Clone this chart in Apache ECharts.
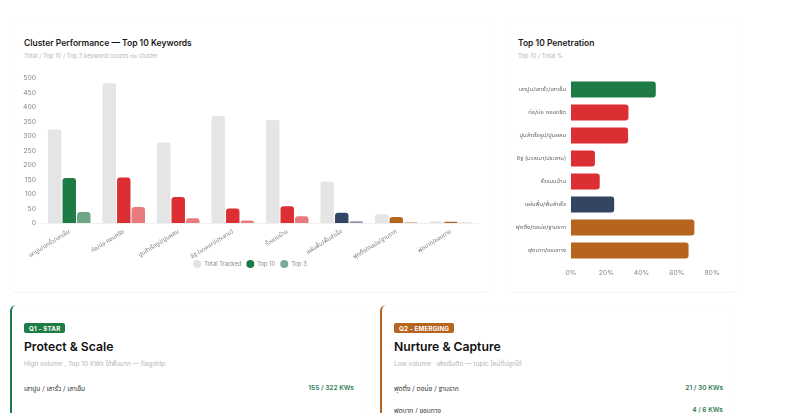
<!DOCTYPE html>
<html>
<head>
<meta charset="utf-8">
<script src="https://cdn.jsdelivr.net/npm/echarts@6/dist/echarts.min.js"></script>
<style>
  html, body { margin:0; padding:0; background:#fff; width:800px; height:413px; overflow:hidden;
    font-family: Inter, "Noto Sans", "Noto Sans Thai", "DejaVu Sans", sans-serif; }
  .card { position:absolute; background:#fff; border-radius:6px;
    box-shadow: 0 0 0 1px rgba(0,0,0,0.012), 0 1px 1px rgba(0,0,0,0.03); }
  .title { position:absolute; font-size:8.5px; font-weight:600; color:#1a1a1a; }
  .sub { position:absolute; font-size:5.9px; color:#b5b5b5; }
  .chart { position:absolute; }
  .qcard { position:absolute; background:#fff; border-radius:6px; overflow:hidden;
    box-shadow: 0 0 0 1px rgba(0,0,0,0.012), 0 1px 1px rgba(0,0,0,0.03); }
  .tag { position:absolute; left:12px; top:18px; font-size:6.2px; font-weight:700; color:#fff;
    padding:1.5px 5px; border-radius:2px; letter-spacing:0.2px; }
  .qtitle { position:absolute; left:12px; top:34px; font-size:12.2px; font-weight:600; color:#111; }
  .qsub { position:absolute; left:12px; top:54px; font-size:6.5px; color:#b5b5b5; }
  .row { position:absolute; left:12px; right:10px; font-size:6.6px; color:#333; }
  .row span { position:absolute; right:0; top:0; color:#2f7d57; font-weight:600; }
</style>
</head>
<body>
<div class="card" style="left:10px;top:22px;width:480px;height:270px;"></div>
<div class="card" style="left:506px;top:22px;width:232px;height:270px;"></div>
<div class="title" style="left:24px;top:38px;">Cluster Performance — Top 10 Keywords</div>
<div class="sub" style="left:24px;top:52px;">Total / Top 10 / Top 3 keyword counts ต่อ cluster</div>
<div class="title" style="left:518px;top:38px;">Top 10 Penetration</div>
<div class="sub" style="left:518px;top:52px;">Top 10 / Total %</div>
<div id="c1" class="chart" style="left:10px;top:22px;width:480px;height:270px;"></div>
<div id="c2" class="chart" style="left:505px;top:22px;width:235px;height:270px;"></div>

<div class="qcard" style="left:10px;top:305px;width:352px;height:130px;border-left:2px solid #1e7b45;">
  <div class="tag" style="background:#1e7b45;">Q1 - STAR</div>
  <div class="qtitle">Protect &amp; Scale</div>
  <div class="qsub">High volume , Top 10 KWs ได้พื้นมาก — flagship</div>
  <div class="row" style="top:79px;">เสาปูน / เสารั้ว / เสาเข็ม<span>155 / 322 KWs</span></div>
</div>
<div class="qcard" style="left:380px;top:305px;width:351px;height:130px;border-left:2px solid #b5651d;">
  <div class="tag" style="background:#b5651d;">Q2 - EMERGING</div>
  <div class="qtitle">Nurture &amp; Capture</div>
  <div class="qsub">Low volume · เพิ่งเริ่มติด — topic ใหม่ที่ปลูกได้</div>
  <div class="row" style="top:79px;">ฟุตติ้ง / ตอม่อ / ฐานราก<span>21 / 30 KWs</span></div>
  <div class="row" style="top:101px;">ฟุตบาท / ขอบทาง<span>4 / 6 KWs</span></div>
</div>

<script>
var categories = ['เสาปูน/เสารั้ว/เสาเข็ม','ท่อ/บ่อ คอนกรีต','ปูนสำเร็จรูป/ปูนผสม','อิฐ (มวลเบา/ประสาน)','รั้วแบบบ้าน','แผ่นพื้น/พื้นสำเร็จ','ฟุตติ้ง/ตอม่อ/ฐานราก','ฟุตบาท/ขอบทาง'];
var totalTracked = [322, 482, 278, 369, 355, 143, 30, 6];
var top10 = [155, 157, 90, 50, 58, 35, 21, 4];
var top3 = [38, 55, 16, 9, 23, 6, 3, 1];
var clusterColors = ['#1e7b45','#dc2f34','#dc2f34','#dc2f34','#dc2f34','#344563','#b5651d','#b5651d'];
var top3Colors = ['#6fa688','#e87b7e','#e87b7e','#e87b7e','#e87b7e','#8e96a6','#d3a57c','#d3a57c'];
var pctTicks = [0, 20, 40, 60, 80];

var font = 'Inter, "Noto Sans", "Noto Sans Thai", sans-serif';
var c1 = echarts.init(document.getElementById('c1'));
c1.setOption({
  animation:false,
  textStyle:{fontFamily:font},
  grid:{left:32, right:12, top:56, bottom:69},
  legend:{bottom:19, left:'center', icon:'circle', itemWidth:8, itemHeight:8, itemGap:5,
    textStyle:{fontSize:5.8, color:'#888', fontFamily:font, padding:[0,0,0,-2]},
    data:[{name:'Total Tracked', itemStyle:{color:'#e3e3e3'}},
          {name:'Top 10', itemStyle:{color:'#1e7b45'}},
          {name:'Top 3', itemStyle:{color:'#7aab93'}}]},
  xAxis:{type:'category', data:categories,
    axisLine:{show:true, lineStyle:{color:'#f0f0f0'}}, axisTick:{show:false},
    axisLabel:{rotate:32, fontSize:5.8, color:'#777', interval:0, margin:8}},
  yAxis:{type:'value', min:0, max:500, interval:50,
    axisLine:{show:false}, axisTick:{show:false}, splitLine:{show:false},
    axisLabel:{fontSize:6.8, color:'#888', margin:6}},
  series:[
    {name:'Total Tracked', type:'bar', data:totalTracked, barGap:'8%', barCategoryGap:'22%',
      itemStyle:{color:'#e5e5e5', borderRadius:[2,2,0,0]}},
    {name:'Top 10', type:'bar', data:top10.map(function(v,i){return {value:v, itemStyle:{color:clusterColors[i]}};}),
      itemStyle:{color:'#1e7b45', borderRadius:[3,3,0,0]}},
    {name:'Top 3', type:'bar', data:top3.map(function(v,i){return {value:v, itemStyle:{color:top3Colors[i]}};}),
      itemStyle:{color:'#7aab93', borderRadius:[3,3,0,0]}}
  ]
});

var pct = top10.map(function(v,i){ return Math.round(v / totalTracked[i] * 1000) / 10; });
var c2 = echarts.init(document.getElementById('c2'));
c2.setOption({
  animation:false,
  textStyle:{fontFamily:font},
  grid:{left:66, right:28, top:56, bottom:30},
  xAxis:{type:'value', min:pctTicks[0], max:pctTicks[pctTicks.length-1], interval:20,
    axisLine:{show:false}, axisTick:{show:false}, splitLine:{show:false},
    axisLabel:{fontSize:6.8, color:'#888', formatter:'{value}%', margin:7}},
  yAxis:{type:'category', data:categories, inverse:true,
    axisLine:{show:false}, axisTick:{show:false},
    axisLabel:{fontSize:5.8, color:'#666', margin:5}},
  series:[{type:'bar', barCategoryGap:'30%',
    data:pct.map(function(v,i){return {value:v, itemStyle:{color:clusterColors[i]}};}),
    itemStyle:{borderRadius:[0,3,3,0]}}]
});
</script>
</body>
</html>
